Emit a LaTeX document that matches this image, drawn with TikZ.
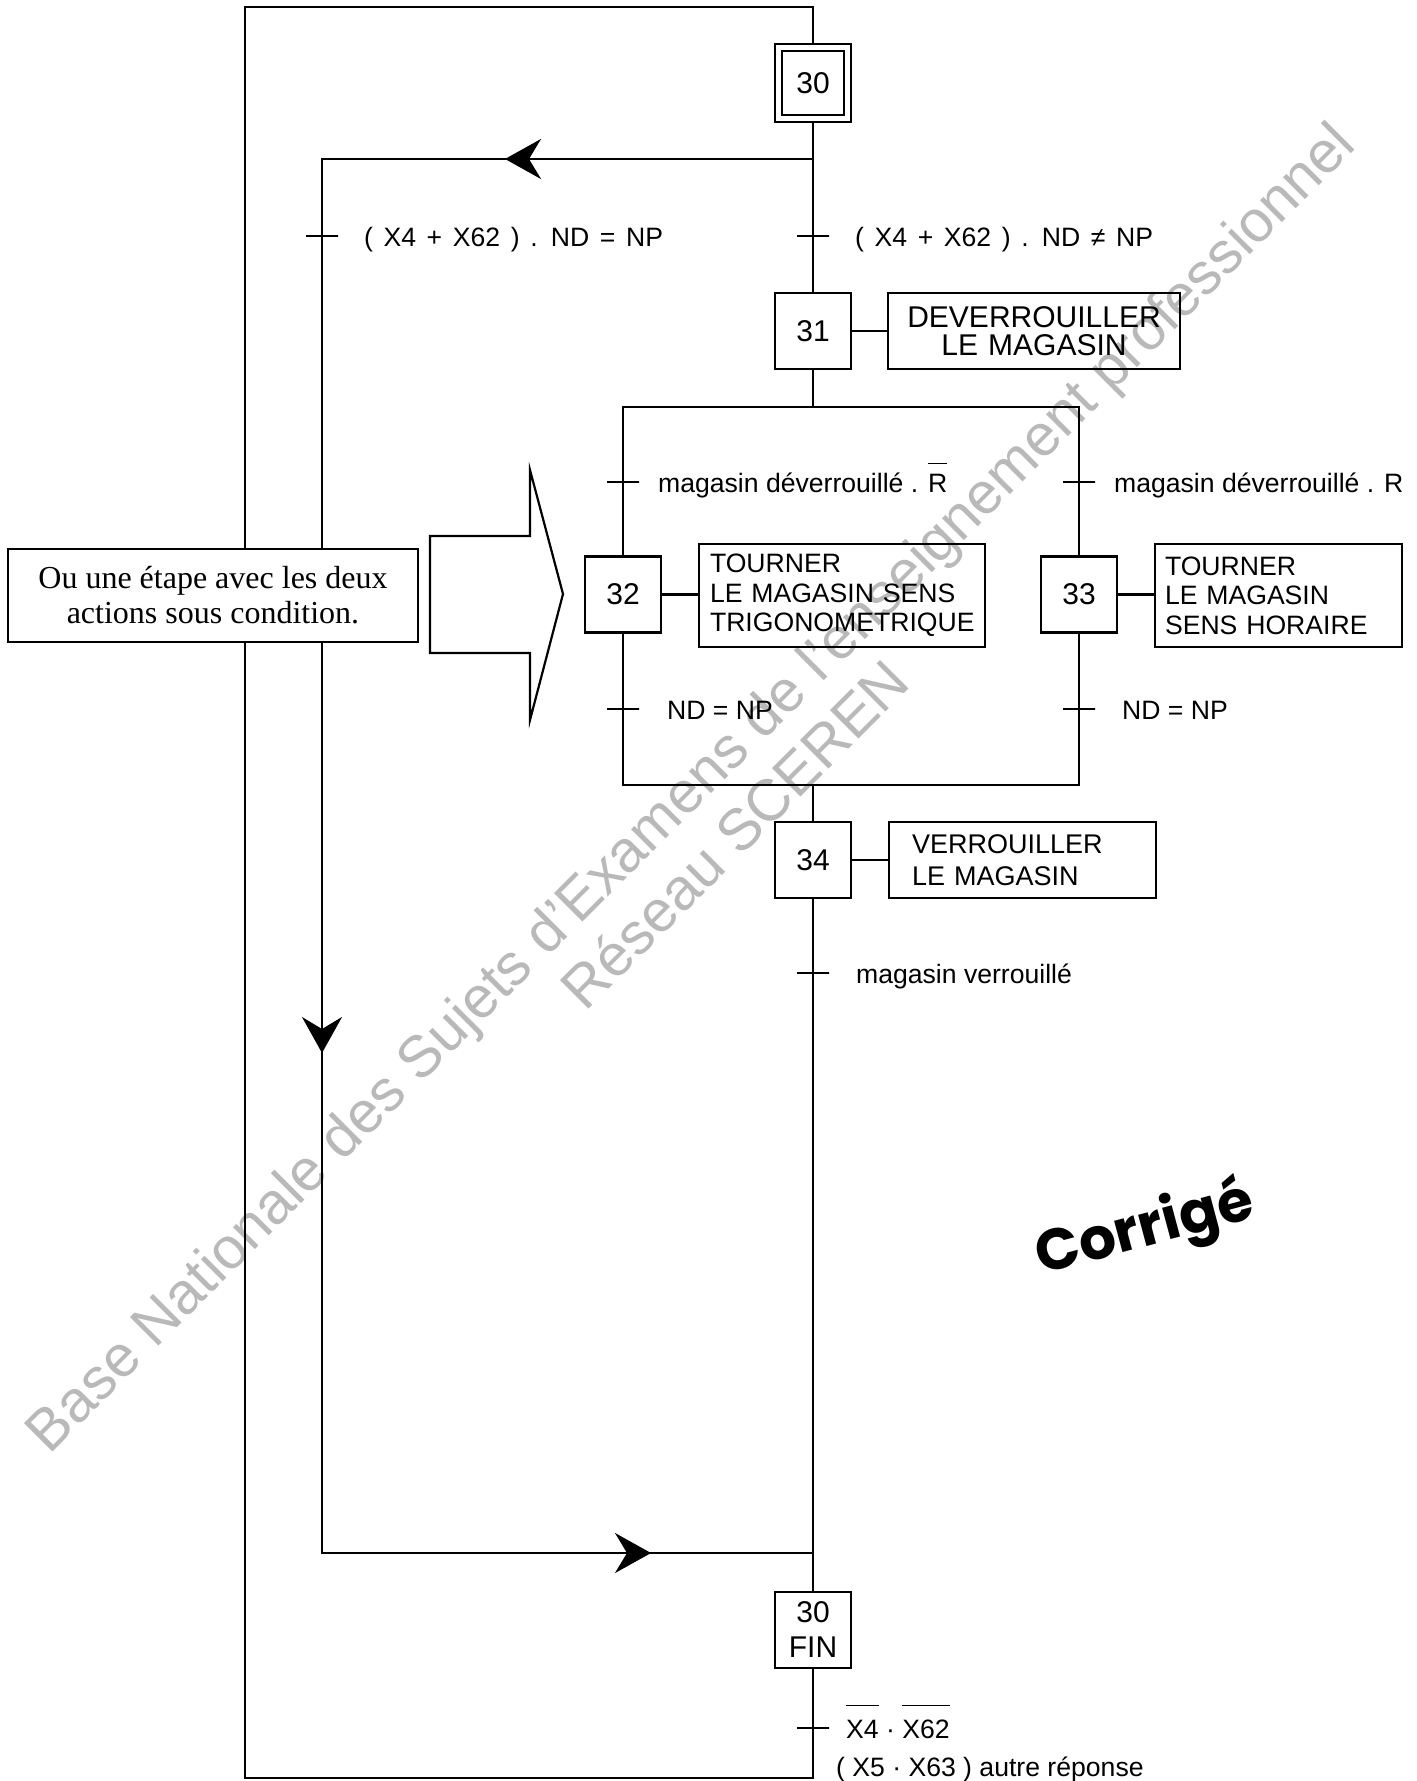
\documentclass[tikz,border=0pt]{standalone}
\usepackage{fontspec}
\setmainfont{Liberation Sans}
\newfontfamily\notefont{Liberation Serif}
\newfontfamily\corfont{Poppins}
\usetikzlibrary{arrows.meta,decorations.markings}
\definecolor{wm}{RGB}{185,185,185}
\newcommand\ovbar[2]{\setbox0=\hbox{#2}\rlap{\raisebox{#1}{\rule{\wd0}{0.75pt}}}\box0}
\begin{document}
\begin{tikzpicture}[x=0.5pt,y=-0.5pt,line width=1.1pt,
  stepbox/.style={draw,minimum width=38pt,minimum height=38pt,inner sep=0pt,align=center,font=\fontsize{15}{17.5}\selectfont},
  actbox/.style={draw,inner ysep=0pt,align=left,font=\fontsize{13.3}{14.75}\selectfont},
  trans/.style={draw,rectangle,minimum width=16pt,minimum height=0pt,inner sep=0pt,outer sep=0pt},
  ttext/.style={anchor=base west,inner sep=0pt,font=\fontsize{13.3}{16}\selectfont},
  wmtext/.style={anchor=base west,inner sep=0pt,rotate=45,text=wm,font=\fontsize{29.3}{35}\selectfont},
  loopmarks/.style={postaction={decorate,decoration={markings,
     mark=at position 154pt with {\arrow{Stealth[length=18pt,width=20pt,inset=6pt]}},
     mark=at position 692.5pt with {\arrow{Stealth[length=18pt,width=20pt,inset=6pt]}},
     mark=at position 1107pt with {\arrow{Stealth[length=18pt,width=20pt,inset=6pt]}}}}}
]
\useasboundingbox (0,0) rectangle (1417,1781);

% watermark
\node[wmtext] (wm1) at (49,1456) {Base Nationale des Sujets d'Examens de l'enseignement professionnel};
\node[wmtext] (wm2) at (585,1013) {Réseau SCEREN};

% steps
\node[draw,minimum width=38pt,minimum height=39pt,inner sep=0pt] (s30) at (813,83) {};
\node[stepbox,minimum width=31pt,minimum height=32pt] (s30i) at (813,83) {30};
\node[stepbox] (s31) at (813,331) {31};
\node[stepbox] (s32) at (623,594.5) {32};
\node[stepbox] (s33) at (1079,594.5) {33};
\node[stepbox] (s34) at (813,860) {34};
\node[stepbox] (s30fin) at (813,1630) {30\\FIN};

% actions
\node[actbox,font=\fontsize{15}{14}\selectfont,align=center,text width=136pt,inner xsep=5pt,minimum height=38pt] (a31) at (1034,331) {DEVERROUILLER\\LE MAGASIN};
\node[actbox,text width=132pt,inner xsep=5.5pt,minimum height=51.5pt] (a32) at (842,595.5) {TOURNER\\LE MAGASIN SENS\\TRIGONOMETRIQUE};
\node[actbox,text width=113.5pt,inner xsep=5pt,minimum height=51.5pt] (a33) at (1278.5,595.5) {TOURNER\\LE MAGASIN\\SENS HORAIRE};
\node[actbox,font=\fontsize{13.5}{16}\selectfont,text width=110.5pt,inner xsep=11.5pt,minimum height=38pt] (a34) at (1022.5,860) {VERROUILLER\\LE MAGASIN};

\draw (s31.east) -- (a31.west);
\draw (s32.east) -- (s32.east -| a32.west);
\draw (s33.east) -- (s33.east -| a33.west);
\draw (s34.east) -- (a34.west);

% coordinates
\coordinate (j1) at (813,159);
\coordinate (c1) at (322,159);
\coordinate (c2) at (322,1553);
\coordinate (j2) at (813,1553);
\coordinate (dtop) at (813,407);
\coordinate (dbot) at (813,785);
\coordinate (bl) at (245,1778);
\coordinate (tl) at (245,7);

% main line
\draw (s30.south) -- (s31.north);
\draw (s31.south) -- (dtop);
\draw (s32.north) |- (dtop) -| (s33.north);
\draw (s32.south) |- (dbot) -| (s33.south);
\draw (dbot) -- (s34.north);
\draw (s34.south) -- (s30fin.north);
\draw (s30fin.south) |- (bl) -- (tl) -| (s30.north);

% inner loop
\draw[loopmarks] (j1) -- (c1) -- (c2) -- (j2);

% transitions
\node[trans] (t1) at (322,236) {};
\node[trans] (t2) at (813,236) {};
\node[trans] (t3) at (623,482) {};
\node[trans] (t4) at (1079,482) {};
\node[trans] (t5) at (623,709) {};
\node[trans] (t6) at (1079,709) {};
\node[trans] (t7) at (813,973) {};
\node[trans] (t8) at (813,1728) {};

\node[ttext] (t1l) at (363,247) {\spaceskip=0.40em\relax ( X4 + X62 ) . ND = NP};
\node[ttext] (t2l) at (854,247) {\spaceskip=0.40em\relax ( X4 + X62 ) . ND ≠ NP};
\node[ttext] (t3l) at (657,492) {magasin déverrouillé . \ovbar{14pt}{R}};
\node[ttext] (t4l) at (1113,492) {magasin déverrouillé . R};
\node[ttext] (t5l) at (666,719) {ND = NP};
\node[ttext] (t6l) at (1121,719) {ND = NP};
\node[ttext] (t7l) at (855,983) {magasin verrouillé};
\node[ttext] (t8l) at (845,1738) {\ovbar{16pt}{X4}\ ·\ \ovbar{16pt}{X62}};
\node[ttext] (t8m) at (835,1776) {( X5 · X63 ) autre réponse};

% note and big arrow
\node[draw,fill=white,minimum width=205pt,minimum height=46.5pt,inner sep=0pt,align=center,font=\notefont\fontsize{16}{17.5}\selectfont] (note) at (213,595.5) {Ou une étape avec les deux\\actions sous condition.};
\draw[fill=white] (430,536) -- (530,536) -- (530,470) -- (563,594) -- (530,720) -- (530,653) -- (430,653) -- cycle;

% Corrige
\node[rotate=15,inner sep=0pt,font=\corfont\bfseries\fontsize{29}{34}\selectfont] (cor) at (1145,1230) {Corrigé};
\end{tikzpicture}
\end{document}
